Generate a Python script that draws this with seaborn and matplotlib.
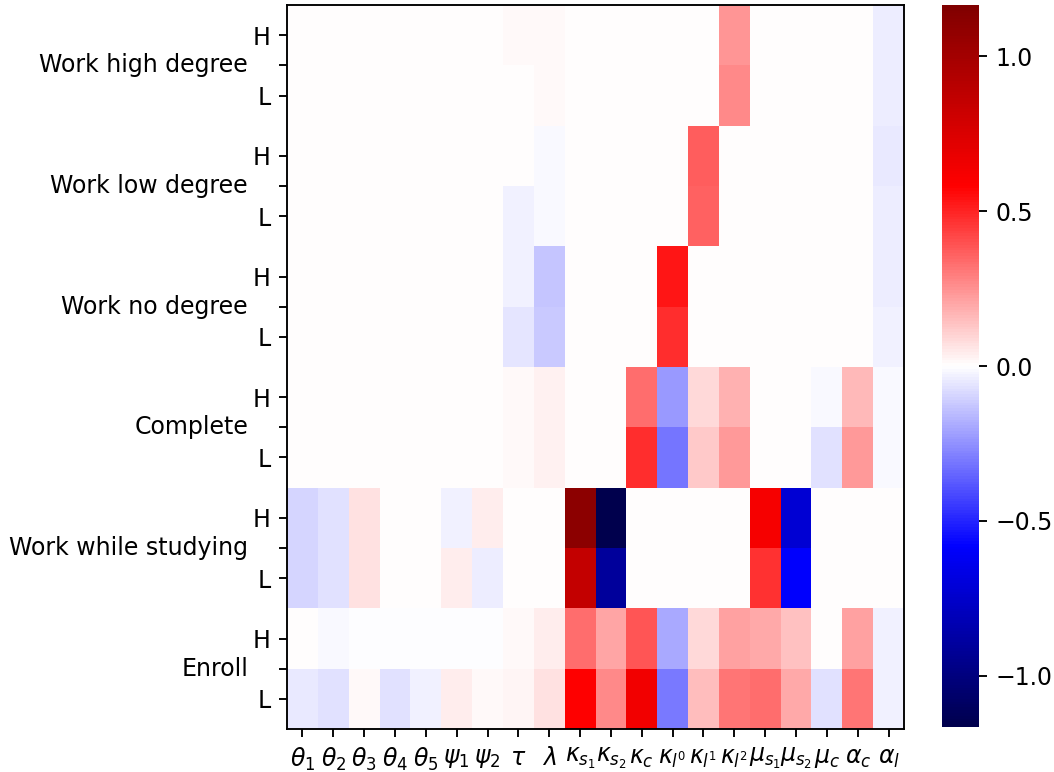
import numpy as np
import pandas as pd
import matplotlib
matplotlib.use("Agg")
import matplotlib.pyplot as plt
import seaborn as sns

# Parameters (columns) and outcome rows
params = [r"$\theta_1$", r"$\theta_2$", r"$\theta_3$", r"$\theta_4$", r"$\theta_5$",
          r"$\psi_1$", r"$\psi_2$", r"$\tau$", r"$\lambda$",
          r"$\kappa_{s_1}$", r"$\kappa_{s_2}$", r"$\kappa_c$",
          r"$\kappa_{l^0}$", r"$\kappa_{l^1}$", r"$\kappa_{l^2}$",
          r"$\mu_{s_1}$", r"$\mu_{s_2}$", r"$\mu_c$", r"$\alpha_c$", r"$\alpha_l$"]
groups = ["Work high degree", "Work low degree", "Work no degree",
          "Complete", "Work while studying", "Enroll"]
types = ["H", "L"]

# one row per (group, type)
work_high_H = [0, 0, 0, 0, 0, 0, 0, 0.01, 0.01, 0, 0, 0, 0, 0, 0.245, 0, 0, 0, 0, -0.04]
work_high_L = [0, 0, 0, 0, 0, 0, 0, 0, 0.01, 0, 0, 0, 0, 0, 0.27, 0, 0, 0, 0, -0.04]
work_low_H = [0, 0, 0, 0, 0, 0, 0, 0, -0.015, 0, 0, 0, 0, 0.37, 0, 0, 0, 0, 0, -0.05]
work_low_L = [0, 0, 0, 0, 0, 0, 0, -0.03, -0.015, 0, 0, 0, 0, 0.355, 0, 0, 0, 0, 0, -0.04]
work_no_H = [0, 0, 0, 0, 0, 0, 0, -0.034, -0.13, 0, 0, 0, 0.535, 0, 0, 0, 0, 0, 0, -0.04]
work_no_L = [0, 0, 0, 0, 0, 0, 0, -0.062, -0.125, 0, 0, 0, 0.482, 0, 0, 0, 0, 0, 0, -0.035]
complete_H = [0, 0, 0, 0, 0, 0, 0, 0.01, 0.034, 0, 0, 0.336, -0.235, 0.085, 0.176, 0, 0, -0.016, 0.155, -0.016]
complete_L = [0, 0, 0, 0, 0, 0, 0, 0.01, 0.034, 0, 0, 0.482, -0.318, 0.119, 0.233, 0, 0, -0.071, 0.233, -0.016]
wws_H = [-0.098, -0.071, 0.066, 0, 0, -0.034, 0.04, 0, 0, 1.11, -1.165, 0, 0, 0, 0, 0.628, -0.723, 0, 0, 0]
wws_L = [-0.095, -0.065, 0.066, 0, 0, 0.04, -0.04, 0, 0, 0.847, -0.909, 0, 0, 0, 0, 0.473, -0.59, 0, 0, 0]
enroll_H = [0, -0.016, -0.005, -0.005, -0.007, -0.007, -0.007, 0.016, 0.04, 0.331, 0.206, 0.389, -0.194, 0.089, 0.212, 0.192, 0.144, 0, 0.212, -0.03]
enroll_L = [-0.053, -0.065, 0.016, -0.065, -0.03, 0.04, 0.016, 0.02, 0.066, 0.583, 0.27, 0.642, -0.308, 0.146, 0.311, 0.331, 0.2, -0.065, 0.311, -0.03]

rows = [work_high_H, work_high_L, work_low_H, work_low_L, work_no_H, work_no_L,
        complete_H, complete_L, wws_H, wws_L, enroll_H, enroll_L]
index = pd.MultiIndex.from_product([groups, types])
df = pd.DataFrame(rows, index=index, columns=params)

vmax = np.abs(df.values).max()

dpi = 170
fig = plt.figure(figsize=(1054 / dpi, 772 / dpi), dpi=dpi)
ax = fig.add_axes([287 / 1054, 1 - 729 / 772, 617 / 1054, 724 / 772])
cax = fig.add_axes([942 / 1054, 1 - 727 / 772, 37 / 1054, 722 / 772])

sns.heatmap(df, cmap="seismic", vmin=-vmax, vmax=vmax, ax=ax, cbar_ax=cax)

for sp in ax.spines.values():
    sp.set_visible(True)
    sp.set_linewidth(0.8)

# x ticks: parameter names
ax.set_xticks(np.arange(len(params)) + 0.5)
ax.set_xticklabels(params, rotation=0, fontsize=10)
ax.set_xlabel("")
ax.set_ylabel("")

# y ticks: H/L at row centers, group name between them
n = len(groups)
ax.set_yticks(np.arange(n) * 2 + 1)
ax.set_yticklabels(groups, rotation=0)
ax.set_yticks(np.arange(2 * n) + 0.5, minor=True)
ax.set_yticklabels(types * n, minor=True)
ax.tick_params(axis="y", which="major", pad=13, length=3.5)
ax.tick_params(axis="y", which="minor", length=3.5, width=0.8, labelsize=10)
ax.tick_params(axis="x", length=3.5)

cax.tick_params(length=3.5)

fig.savefig("out.png", dpi=dpi)
